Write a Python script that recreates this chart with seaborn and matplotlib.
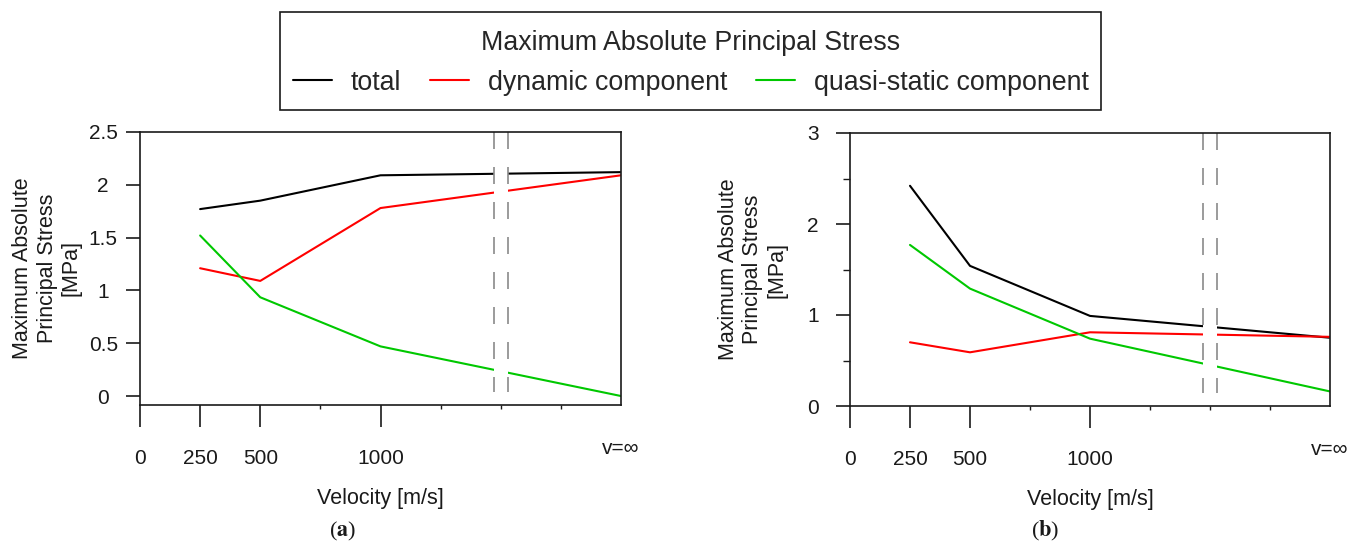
import matplotlib
matplotlib.use("Agg")
import matplotlib.pyplot as plt
import matplotlib.transforms as mtransforms
from matplotlib.lines import Line2D
from matplotlib.patches import Rectangle
import numpy as np
import pandas as pd
import seaborn as sns

# Velocity positions on the x axis; v=∞ sits at the right-hand end (2000)
velocity = [250, 500, 1000, 2000]
series_names = ["total", "dynamic component", "quasi-static component"]
series_colors = ["#000000", "#ff0000", "#00c800"]

# (a)
total_a = [1.77, 1.85, 2.09, 2.12]
dynamic_a = [1.21, 1.09, 1.78, 2.09]
quasi_a = [1.52, 0.935, 0.47, 0.0]

# (b)
total_b = [2.42, 1.54, 0.99, 0.75]
dynamic_b = [0.70, 0.59, 0.81, 0.76]
quasi_b = [1.77, 1.29, 0.74, 0.16]

x_major_ticks = [0, 250, 500, 1000]
x_major_labels = ["0", "250", "500", "1000"]
x_minor_ticks = [750, 1250, 1500, 1750]
inf_label = "v=∞"

y_ticks_a = [0, 0.5, 1, 1.5, 2, 2.5]
y_labels_a = ["0", "0.5", "1", "1.5", "2", "2.5"]
y_ticks_b = [0, 1, 2, 3]
y_labels_b = ["0", "1", "2", "3"]
y_minor_b = [0.5, 1.5, 2.5]

# axis break between finite velocities and v=∞
break_left, break_right = 1470, 1530

sns.set_style("ticks")
plt.rcParams["font.family"] = ["Liberation Sans", "DejaVu Sans"]
plt.rcParams["mathtext.fontset"] = "stix"

FS = 15
INK = "#1a1a1a"
W, H = 1362, 548

fig = plt.figure(figsize=(W / 100, H / 100), dpi=100)
ax_a = fig.add_axes([140 / W, 1 - 405 / H, 481 / W, 273 / H])
ax_b = fig.add_axes([850 / W, 1 - 406 / H, 480 / W, 273 / H])


def draw_panel(ax, total, dynamic, quasi, ylim, yticks, ylabels, yminor,
               dash_bottom, ylabel_x, label_y, inf_y):
    df = pd.DataFrame({
        "velocity": velocity * 3,
        "stress": list(total) + list(dynamic) + list(quasi),
        "series": np.repeat(series_names, len(velocity)),
    })
    sns.lineplot(data=df, x="velocity", y="stress", hue="series",
                 hue_order=series_names, palette=series_colors,
                 linewidth=1.5, ax=ax, legend=False, sort=False,
                 errorbar=None)

    ax.set_xlim(0, 2000)
    ax.set_ylim(*ylim)

    # axis break: white band with two grey dashed lines
    ax.axvspan(break_left, break_right, color="white", lw=0, zorder=2.1)
    for xb in (break_left, break_right):
        ax.plot([xb, xb], [ylim[1], dash_bottom], color="#8a8a8a", lw=1.2,
                dashes=(10.2, 10.8), zorder=2.2)

    for sp in ax.spines.values():
        sp.set_visible(True)
        sp.set_color(INK)
        sp.set_linewidth(1.2)

    ax.set_xticks(x_major_ticks)
    ax.set_xticklabels(x_major_labels)
    ax.set_xticks(x_minor_ticks, minor=True)
    ax.set_yticks(yticks)
    ax.set_yticklabels(ylabels)
    if yminor:
        ax.set_yticks(yminor, minor=True)

    ax.tick_params(axis="x", which="major", direction="out", length=16,
                   width=1.2, pad=16, labelsize=FS, color=INK, labelcolor=INK)
    ax.tick_params(axis="x", which="minor", direction="out", length=3,
                   width=1.0, color=INK)
    ax.tick_params(axis="y", which="major", direction="out", length=10,
                   width=1.2, pad=16.5, labelsize=FS, color=INK, labelcolor=INK)
    ax.tick_params(axis="y", which="minor", direction="out", length=5,
                   width=1.0, color=INK)
    for lab in ax.get_yticklabels():
        lab.set_horizontalalignment("center")

    trans = mtransforms.blended_transform_factory(ax.transData, ax.transAxes)
    ax.text(2000, inf_y, inf_label, transform=trans, ha="center", va="center",
            fontsize=FS, color=INK)

    ax.set_xlabel("Velocity [m/s]", fontsize=15.5, va="center", color=INK)
    ax.xaxis.set_label_coords(0.5, label_y)
    ax.set_ylabel("Maximum Absolute\nPrincipal Stress\n[MPa]", fontsize=15.5,
                  va="center", ha="center", linespacing=1.2, color=INK)
    ax.yaxis.set_label_coords(ylabel_x, 0.5)


draw_panel(ax_a, total_a, dynamic_a, quasi_a, (-0.085, 2.5), y_ticks_a,
           y_labels_a, None, 0.04, -0.193, -0.343, -0.161)
draw_panel(ax_b, total_b, dynamic_b, quasi_b, (0, 3), y_ticks_b,
           y_labels_b, y_minor_b, 0.14, -0.203, -0.343, -0.158)

handles = [Line2D([], [], color=c, lw=1.5) for c in series_colors]
leg = fig.legend(handles, series_names, title="Maximum Absolute Principal Stress",
                 ncol=3, loc="center", bbox_to_anchor=(691 / W, 1 - 63 / H),
                 frameon=False, fontsize=19.3, title_fontsize=19.3,
                 handlelength=1.45, handletextpad=0.7, columnspacing=1.08,
                 borderpad=0.0, borderaxespad=0)

# legend border
fig.patches.append(Rectangle((280 / W, 1 - 110 / H), 821 / W, 98 / H,
                             transform=fig.transFigure, fill=False,
                             edgecolor=INK, linewidth=1.2, zorder=5))

fig.text(343 / W, 1 - 531 / H, r"($\mathbf{a}$)", ha="center", va="center",
         fontsize=16, family="Liberation Serif", color=INK)
fig.text(1045 / W, 1 - 531 / H, r"($\mathbf{b}$)", ha="center", va="center",
         fontsize=16, family="Liberation Serif", color=INK)

fig.savefig("out.png", dpi=100)
